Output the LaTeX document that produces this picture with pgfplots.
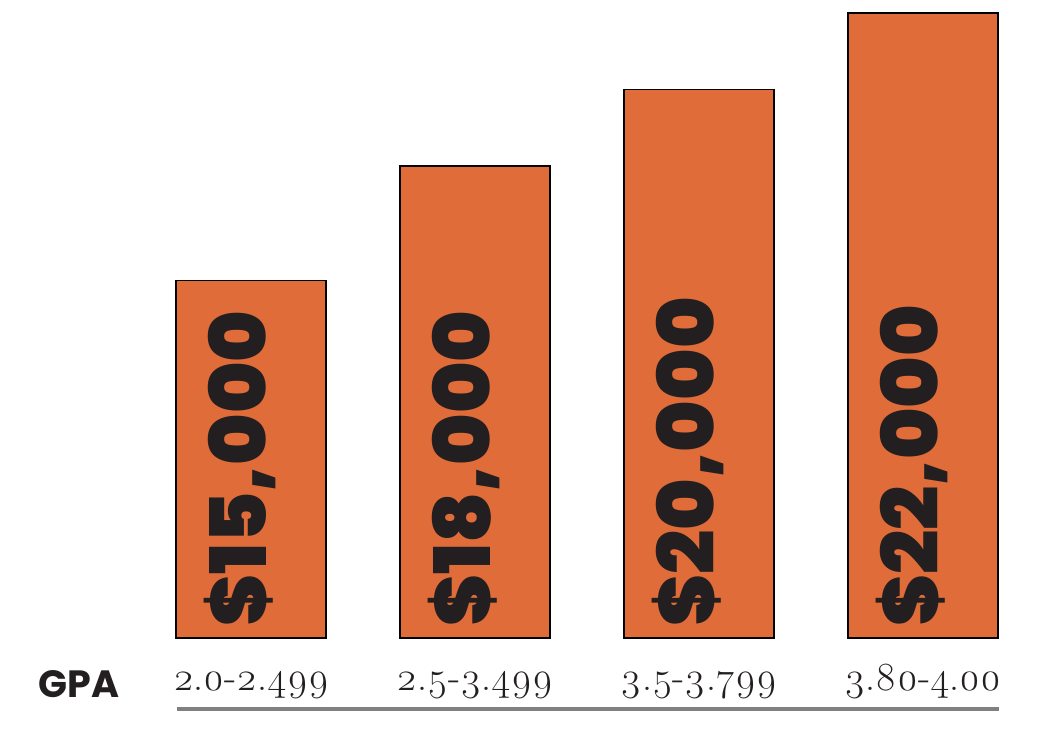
\documentclass[border=0pt]{standalone}
\usepackage{pgfplots}
\pgfplotsset{compat=1.18}
\usepackage{fontspec}
\newfontfamily\pop{Poppins}
\newfontfamily\popblk{Poppins Black}
\newfontfamily\osf{Latin Modern Roman}[Numbers=OldStyle]
\definecolor{barorange}{RGB}{224,108,58}
\definecolor{rulegray}{RGB}{128,128,128}
\definecolor{inkblack}{RGB}{35,31,32}
\tikzset{barlab/.style={rotate=90, anchor=base west, inner sep=0pt, text=inkblack,
    font=\popblk\fontsize{39}{39}\selectfont}}
\begin{document}
\begin{tikzpicture}
\useasboundingbox (0,0) rectangle (519pt,364pt);
\begin{axis}[
  at={(0,0)}, anchor=south west,
  scale only axis, width=519pt, height=364pt,
  xmin=-1.1205, xmax=3.5134,
  ymin=3284, ymax=22342,
  y coord trafo/.code={\pgfkeys{/pgf/fpu=true,/pgf/fpu/output format=fixed}\pgfmathparse{#1-5640}\pgfkeys{/pgf/fpu=false}},
  y coord inv trafo/.code={\pgfkeys{/pgf/fpu=true,/pgf/fpu/output format=fixed}\pgfmathparse{#1+5640}\pgfkeys{/pgf/fpu=false}},
  axis line style={draw=none},
  major tick length=0pt,
  ytick=\empty,
  xtick={0,1,2,3},
  xticklabels={2.0-2.499,2.5-3.499,3.5-3.799,3.80-4.00},
  xticklabel style={anchor=base, yshift=19pt, text=inkblack,
    font=\osf\fontsize{20}{20}\selectfont},
  clip mode=individual,
  ybar, bar width=0.67,
]
\addplot[fill=barorange, draw=black, line width=0.75pt]
  coordinates {(0,15000) (1,18000) (2,20000) (3,22000)};
\draw[rulegray, line width=2pt] (axis cs:-0.33,3781) -- (axis cs:3.34,3781);
\node[anchor=base west, inner sep=0pt, text=inkblack,
  font=\pop\bfseries\fontsize{19}{19}\selectfont] at (axis cs:-0.95,4095) {GPA};
\node[barlab] at (axis cs:0.071,5930) {\$15,000};
\node[barlab] at (axis cs:1.071,5930) {\$18,000};
\node[barlab] at (axis cs:2.071,5930) {\$20,000};
\node[barlab] at (axis cs:3.071,5930) {\$22,000};
\end{axis}
\end{tikzpicture}
\end{document}
